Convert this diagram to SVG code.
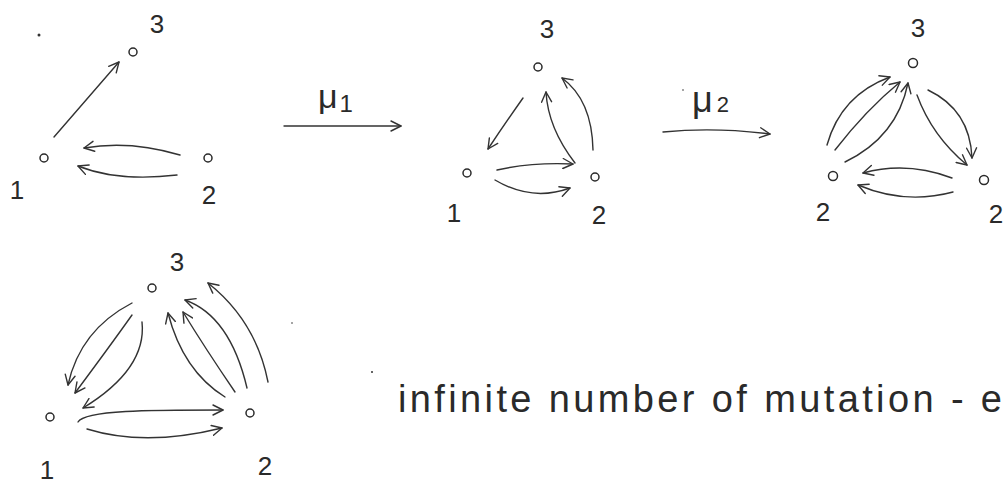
<svg xmlns="http://www.w3.org/2000/svg" width="1006" height="486" viewBox="0 0 1006 486">
<defs>
<style>
.nd{fill:none;stroke:#2a2a2a;stroke-width:1.5}
.lb{font-family:"Liberation Sans",Arial,sans-serif;font-size:26px;fill:#2a2a2a;text-anchor:middle}
.ar{fill:none;stroke:#333;stroke-width:1.4;stroke-linecap:round;marker-end:url(#h)}
.mu{font-family:"Liberation Sans",Arial,sans-serif;fill:#2a2a2a}
.dot{fill:#333}
</style>
<marker id="h" viewBox="0 0 12 12" refX="11" refY="6" markerWidth="12" markerHeight="12" orient="auto" markerUnits="userSpaceOnUse">
<path d="M1,1 L11,6 L1,11" fill="none" stroke="#333" stroke-width="1.4" stroke-linecap="round" stroke-linejoin="round"/>
</marker>
</defs>
<rect width="1006" height="486" fill="#fff"/>

<!-- Quiver A -->
<g id="a1"><circle class="nd" cx="44" cy="158" r="4"/><text class="lb" x="17" y="199">1</text></g>
<g id="a2"><circle class="nd" cx="208" cy="158" r="4"/><text class="lb" x="209" y="204">2</text></g>
<g id="a3"><circle class="nd" cx="133" cy="52" r="4"/><text class="lb" x="157" y="33">3</text></g>

<!-- Quiver B -->
<g id="b1"><circle class="nd" cx="467" cy="173" r="4"/><text class="lb" x="454" y="222">1</text></g>
<g id="b2"><circle class="nd" cx="595" cy="177" r="4"/><text class="lb" x="599" y="224">2</text></g>
<g id="b3"><circle class="nd" cx="538" cy="67" r="4"/><text class="lb" x="547" y="38">3</text></g>

<!-- Quiver C -->
<g id="c1"><circle class="nd" cx="833" cy="176" r="4.5"/><text class="lb" x="823" y="221">2</text></g>
<g id="c2"><circle class="nd" cx="984" cy="180" r="4.5"/><text class="lb" x="996" y="223">2</text></g>
<g id="c3"><circle class="nd" cx="913" cy="63" r="4.5"/><text class="lb" x="918" y="37">3</text></g>

<!-- Quiver D -->
<g id="d1"><circle class="nd" cx="50" cy="417" r="4"/><text class="lb" x="47" y="479">1</text></g>
<g id="d2"><circle class="nd" cx="250" cy="413" r="4"/><text class="lb" x="265" y="475">2</text></g>
<g id="d3"><circle class="nd" cx="152" cy="288" r="4"/><text class="lb" x="177" y="271">3</text></g>

<g id="connectors">
<!-- A -->
<path class="ar" d="M54,137 L119,62"/>
<path class="ar" d="M180,155 Q130,140 84,148"/>
<path class="ar" d="M177,175 Q118,182 78,166"/>
<!-- mu1 -->
<path class="ar" d="M284,126 L401,126"/>
<!-- B -->
<path class="ar" d="M523,98 Q506,122 488,149"/>
<path class="ar" d="M575,163 Q548,128 546,92"/>
<path class="ar" d="M593,150 Q592,100 562,78"/>
<path class="ar" d="M497,170 Q533,162 573,164"/>
<path class="ar" d="M495,180 Q532,202 570,188"/>
<!-- mu2 -->
<path class="ar" d="M663,132 Q715,127 770,134"/>
<!-- C -->
<path class="ar" d="M827,145 Q841,95 890,77"/>
<path class="ar" d="M835,150 Q866,110 900,82"/>
<path class="ar" d="M845,162 Q897,137 908,83"/>
<path class="ar" d="M917,95 Q932,136 967,165"/>
<path class="ar" d="M928,90 Q970,110 972,158"/>
<path class="ar" d="M952,178 Q907,161 863,173"/>
<path class="ar" d="M953,192 Q905,205 858,185"/>
<!-- D -->
<path class="ar" d="M132,303 Q80,330 68,385"/>
<path class="ar" d="M132,315 Q110,346 75,393"/>
<path class="ar" d="M142,322 Q147,369 83,408"/>
<path class="ar" d="M225,397 Q183,371 168,313"/>
<path class="ar" d="M235,392 Q205,348 183,312"/>
<path class="ar" d="M247,388 Q230,316 185,300"/>
<path class="ar" d="M268,382 Q256,321 208,283"/>
<path class="ar" d="M78,422 C85,410 150,410 223,410"/>
<path class="ar" d="M87,429 Q145,447 222,428"/>
</g>

<g id="labels">
<text class="mu" x="318" y="108" font-size="34">μ<tspan font-size="24" dx="2" dy="4">1</tspan></text>
<text class="mu" x="692" y="112" font-size="36">μ<tspan font-size="22" dx="4" dy="0">2</tspan></text>
<text class="mu" x="398" y="412" font-size="38" textLength="604" lengthAdjust="spacing">infinite number of mutation - e</text>
</g>

<g id="specks">
<circle class="dot" cx="39" cy="35" r="1.5"/>
<circle class="dot" cx="683" cy="90" r="0.8"/>
<circle class="dot" cx="292" cy="323" r="0.8"/>
<circle class="dot" cx="372" cy="372" r="1"/>
</g>
</svg>
